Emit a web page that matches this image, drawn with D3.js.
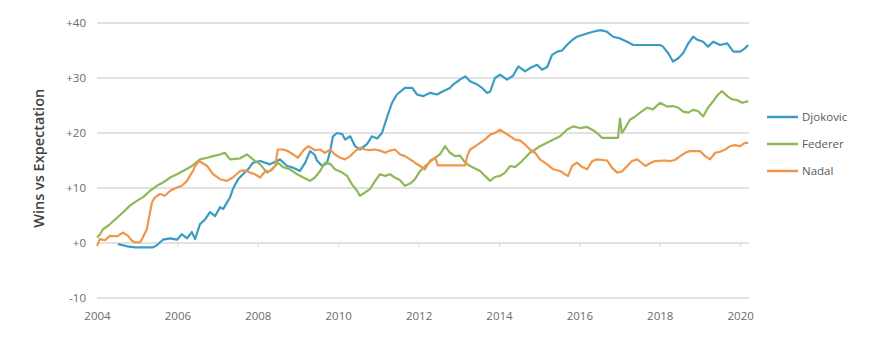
<!DOCTYPE html>
<html>
<head>
<meta charset="utf-8">
<script src="https://cdn.jsdelivr.net/npm/d3@7"></script>
<style>
  body { margin: 0; background: #fff; }
  svg text { font-family: "Open Sans", "DejaVu Sans", sans-serif; }
</style>
</head>
<body>
<script>
// values: [year, wins vs expectation]
var djokovic = [
  [2004.52,-0.2],[2004.75,-0.6],[2004.95,-0.8],[2005.2,-0.8],[2005.39,-0.8],[2005.49,-0.4],
  [2005.64,0.6],[2005.82,0.85],[2005.99,0.6],[2006.11,1.6],[2006.24,0.85],[2006.36,2.0],
  [2006.44,0.7],[2006.56,3.4],[2006.69,4.3],[2006.81,5.6],[2006.94,4.9],[2007.06,6.5],
  [2007.14,6.2],[2007.31,8.3],[2007.38,9.8],[2007.51,11.6],[2007.63,12.5],[2007.76,13.4],
  [2007.88,14.6],[2008.06,14.9],[2008.30,14.3],[2008.55,15.2],[2008.73,14.0],[2008.88,13.7],
  [2009.05,13.1],[2009.18,14.6],[2009.30,16.7],[2009.42,16.0],[2009.47,15.0],[2009.60,14.0],
  [2009.72,14.5],[2009.80,16.7],[2009.87,19.4],[2009.97,20.0],[2010.10,19.8],[2010.17,18.8],
  [2010.30,19.4],[2010.42,17.6],[2010.54,17.0],[2010.72,18.0],[2010.84,19.4],[2010.97,19.0],
  [2011.09,20.0],[2011.22,23.0],[2011.34,25.5],[2011.46,27.0],[2011.66,28.2],[2011.84,28.2],
  [2011.96,27.0],[2012.11,26.7],[2012.29,27.3],[2012.46,27.0],[2012.61,27.6],[2012.78,28.2],
  [2012.86,28.8],[2013.03,29.7],[2013.16,30.3],[2013.28,29.4],[2013.46,28.8],[2013.58,28.2],
  [2013.70,27.3],[2013.78,27.5],[2013.90,30.0],[2014.03,30.6],[2014.20,29.7],[2014.35,30.4],
  [2014.48,32.1],[2014.65,31.2],[2014.77,31.8],[2014.95,32.4],[2015.07,31.5],[2015.20,32.0],
  [2015.32,34.2],[2015.45,34.8],[2015.57,35.0],[2015.69,36.0],[2015.82,36.9],[2015.94,37.5],
  [2016.19,38.1],[2016.34,38.4],[2016.52,38.7],[2016.69,38.4],[2016.84,37.5],[2017.01,37.2],
  [2017.19,36.6],[2017.34,36.0],[2017.51,36.0],[2017.69,36.0],[2018.01,36.0],[2018.08,35.7],
  [2018.21,34.5],[2018.33,33.0],[2018.46,33.6],[2018.58,34.5],[2018.71,36.3],[2018.83,37.5],
  [2018.95,36.9],[2019.08,36.6],[2019.20,35.7],[2019.33,36.6],[2019.50,36.0],[2019.68,36.3],
  [2019.83,34.8],[2020.00,34.8],[2020.12,35.4],[2020.20,36.0]
];

var federer = [
  [2004.00,1.0],[2004.07,1.5],[2004.15,2.5],[2004.32,3.4],[2004.50,4.6],[2004.65,5.6],
  [2004.82,6.8],[2005.00,7.7],[2005.14,8.3],[2005.32,9.5],[2005.49,10.4],[2005.64,11.0],
  [2005.82,11.9],[2005.99,12.5],[2006.14,13.1],[2006.36,14.0],[2006.56,15.2],[2006.74,15.5],
  [2006.89,15.8],[2007.06,16.1],[2007.18,16.4],[2007.31,15.2],[2007.56,15.4],[2007.73,16.1],
  [2007.88,15.2],[2008.06,14.3],[2008.23,12.8],[2008.35,13.3],[2008.50,14.6],[2008.63,13.8],
  [2008.80,13.4],[2008.98,12.5],[2009.13,11.9],[2009.30,11.3],[2009.42,11.9],[2009.55,13.1],
  [2009.67,14.6],[2009.80,14.4],[2009.92,13.4],[2010.10,12.8],[2010.22,12.2],[2010.34,10.7],
  [2010.47,9.5],[2010.54,8.6],[2010.67,9.2],[2010.79,9.8],[2010.92,11.3],[2011.04,12.5],
  [2011.17,12.2],[2011.29,12.5],[2011.41,11.9],[2011.54,11.4],[2011.66,10.4],[2011.79,10.8],
  [2011.91,11.6],[2012.04,13.1],[2012.21,14.3],[2012.36,15.2],[2012.53,16.1],[2012.66,17.6],
  [2012.78,16.4],[2012.91,15.8],[2013.03,15.9],[2013.16,14.6],[2013.28,14.0],[2013.53,13.1],
  [2013.65,12.2],[2013.78,11.3],[2013.90,12.0],[2014.03,12.2],[2014.15,12.8],[2014.28,14.0],
  [2014.40,13.8],[2014.53,14.6],[2014.65,15.5],[2014.77,16.4],[2014.90,17.0],[2015.02,17.6],
  [2015.27,18.5],[2015.52,19.4],[2015.69,20.6],[2015.84,21.2],[2016.02,20.9],[2016.19,21.1],
  [2016.32,20.6],[2016.44,20.0],[2016.57,19.1],[2016.69,19.1],[2016.96,19.1],[2017.01,22.6],
  [2017.06,20.0],[2017.14,20.9],[2017.26,22.4],[2017.39,23.0],[2017.51,23.7],[2017.69,24.6],
  [2017.83,24.3],[2018.01,25.5],[2018.18,24.8],[2018.33,24.9],[2018.46,24.6],[2018.58,23.9],
  [2018.71,23.7],[2018.83,24.2],[2018.95,24.0],[2019.08,23.0],[2019.20,24.6],[2019.33,25.8],
  [2019.45,27.0],[2019.55,27.6],[2019.68,26.7],[2019.80,26.1],[2019.92,26.0],[2020.05,25.5],
  [2020.20,25.8]
];

var nadal = [
  [2004.00,-0.5],[2004.07,0.7],[2004.20,0.5],[2004.32,1.3],[2004.50,1.2],[2004.65,1.9],
  [2004.77,1.3],[2004.87,0.4],[2004.95,0.1],[2005.07,0.1],[2005.14,1.0],[2005.24,2.5],
  [2005.32,5.6],[2005.37,7.4],[2005.44,8.3],[2005.57,8.9],[2005.69,8.6],[2005.82,9.5],
  [2005.99,10.1],[2006.11,10.4],[2006.24,11.3],[2006.31,12.2],[2006.39,13.1],[2006.44,14.0],
  [2006.54,14.9],[2006.61,14.6],[2006.74,14.0],[2006.89,12.5],[2007.06,11.6],[2007.23,11.3],
  [2007.38,11.9],[2007.56,13.1],[2007.68,13.2],[2007.81,12.8],[2007.93,12.5],[2008.06,11.9],
  [2008.18,13.0],[2008.30,13.1],[2008.43,14.0],[2008.50,17.0],[2008.63,17.0],[2008.75,16.7],
  [2008.88,16.1],[2009.00,15.5],[2009.13,16.8],[2009.25,17.6],[2009.42,16.9],[2009.55,17.0],
  [2009.67,16.4],[2009.80,17.0],[2009.92,16.1],[2010.05,15.5],[2010.17,15.2],[2010.30,15.8],
  [2010.42,16.7],[2010.54,17.3],[2010.67,17.0],[2010.79,16.9],[2010.92,17.0],[2011.04,16.8],
  [2011.17,16.4],[2011.29,16.8],[2011.41,17.0],[2011.54,16.1],[2011.66,15.8],[2011.79,15.2],
  [2011.91,14.6],[2012.04,14.0],[2012.16,13.4],[2012.29,15.0],[2012.41,15.5],[2012.48,14.1],
  [2013.16,14.1],[2013.21,15.8],[2013.28,17.0],[2013.41,17.6],[2013.53,18.2],[2013.65,18.8],
  [2013.78,19.7],[2013.90,20.0],[2014.03,20.6],[2014.15,20.0],[2014.28,19.4],[2014.40,18.8],
  [2014.53,18.6],[2014.65,17.9],[2014.77,17.0],[2014.90,16.4],[2015.02,15.2],[2015.20,14.3],
  [2015.35,13.4],[2015.52,13.1],[2015.64,12.5],[2015.72,12.2],[2015.82,14.0],[2015.94,14.6],
  [2016.07,13.8],[2016.19,13.4],[2016.32,14.9],[2016.44,15.2],[2016.69,15.0],[2016.81,13.7],
  [2016.94,12.8],[2017.06,13.0],[2017.19,14.0],[2017.31,14.9],[2017.44,15.2],[2017.56,14.5],
  [2017.64,14.0],[2017.76,14.5],[2017.88,14.9],[2018.13,15.0],[2018.26,14.9],[2018.38,15.1],
  [2018.51,15.8],[2018.63,16.4],[2018.75,16.7],[2019.00,16.7],[2019.13,15.8],[2019.25,15.2],
  [2019.38,16.4],[2019.50,16.6],[2019.63,17.0],[2019.75,17.6],[2019.87,17.8],[2020.00,17.6],
  [2020.12,18.2],[2020.20,18.2]
];

var players = ["Djokovic", "Federer", "Nadal"];
var colors = ["#3a9cc4", "#8fb856", "#f0964b"];
var yearTicks = [2004, 2006, 2008, 2010, 2012, 2014, 2016, 2018, 2020];
var valueTicks = [-10, 0, 10, 20, 30, 40];

var series = [djokovic, federer, nadal];

var svg = d3.select("body").append("svg")
        .attr("width", 880)
        .attr("height", 360);

var x = d3.scaleLinear().domain([2004, 2020.22]).range([97, 749]);
var y = d3.scaleLinear().domain([-10, 40]).range([298, 23]);

// horizontal gridlines
svg.append("g")
        .selectAll("line")
        .data(valueTicks)
        .enter().append("line")
                .attr("x1", x(2004))
                .attr("x2", x(2020.22))
                .attr("y1", function(d){ return y(d); })
                .attr("y2", function(d){ return y(d); })
                .attr("stroke", "#d9d9d9")
                .attr("stroke-width", 1.3);

// little year ticks on the zero line
svg.append("g")
        .attr("transform", "translate(0," + y(0) + ")")
        .call(d3.axisBottom(x).tickValues(yearTicks).tickSize(4).tickFormat(""))
        .call(function(g){ g.select(".domain").remove(); })
        .selectAll("line").attr("stroke", "#d9d9d9");

// year labels sit under the bottom gridline
var xAxis = svg.append("g")
        .attr("transform", "translate(0," + y(-10) + ")")
        .call(d3.axisBottom(x).tickValues(yearTicks).tickSize(0).tickPadding(14).tickFormat(d3.format("d")));
xAxis.select(".domain").remove();
xAxis.selectAll("text")
        .attr("fill", "#6b6b6b")
        .style("font-size", "11.5px");

var yAxis = svg.append("g")
        .attr("transform", "translate(" + x(2004) + ",0)")
        .call(d3.axisLeft(y).tickValues(valueTicks).tickSize(0).tickPadding(11)
                .tickFormat(function(d){ return d >= 0 ? "+" + d : String(d); }));
yAxis.select(".domain").remove();
yAxis.selectAll("text")
        .attr("fill", "#6b6b6b")
        .style("font-size", "11.5px");

svg.append("text")
        .attr("transform", "translate(44," + y(15.4) + ") rotate(-90)")
        .attr("text-anchor", "middle")
        .attr("fill", "#404040")
        .style("font-size", "14.5px")
        .style("font-weight", "600")
        .text("Wins vs Expectation");

var line = d3.line()
        .x(function(d){ return x(d[0]); })
        .y(function(d){ return y(d[1]); });

svg.append("g")
        .selectAll("path")
        .data(series)
        .enter().append("path")
                .attr("d", line)
                .attr("fill", "none")
                .attr("stroke", function(d,i){ return colors[i]; })
                .attr("stroke-width", 2.2)
                .attr("stroke-linejoin", "round");

// legend
var legend = svg.append("g")
        .selectAll("g")
        .data(players)
        .enter().append("g")
                .attr("transform", function(d,i){ return "translate(767," + (117 + i*27) + ")"; });

legend.append("line")
        .attr("x1", 0).attr("x2", 31)
        .attr("stroke", function(d,i){ return colors[i]; })
        .attr("stroke-width", 2.5);

legend.append("text")
        .attr("x", 35)
        .attr("dy", "0.35em")
        .attr("fill", "#595959")
        .style("font-size", "11.5px")
        .text(function(d){ return d; });
</script>
</body>
</html>
